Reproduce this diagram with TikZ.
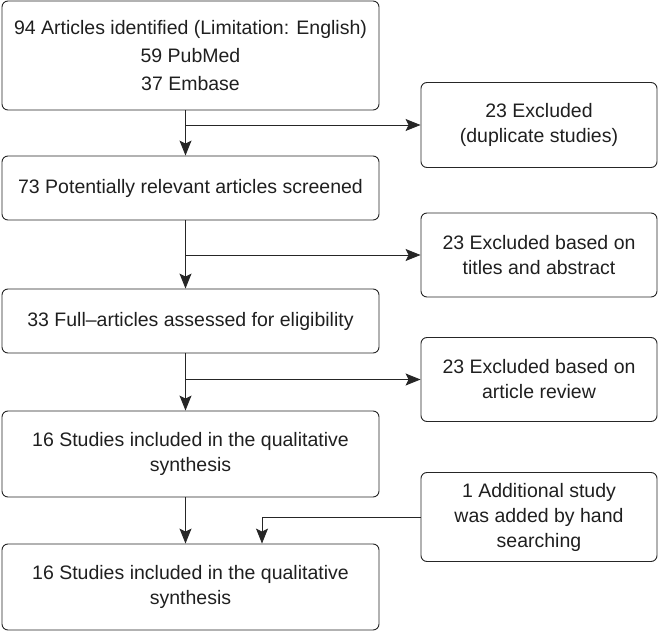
\documentclass[tikz,border=0pt]{standalone}
\usepackage{fontspec}
\setmainfont{Liberation Sans}
\usetikzlibrary{arrows.meta}
\begin{document}
\begin{tikzpicture}[x=1pt,y=-1pt,
        box/.style={draw=black!85, rounded corners=6pt, line width=0.9pt, align=center,
            inner sep=0pt, text=black!88, font=\fontsize{19.5}{25}\selectfont},
        leftbox/.style={box, minimum width=377pt},
        rightbox/.style={box, minimum width=236pt},
        arr/.style={draw=black!85, line width=0.9pt, -{Stealth[length=15pt,width=12pt,inset=3pt]}}]
        \useasboundingbox (0,0) rectangle (659,631);

        \node[leftbox, minimum height=109pt, font=\fontsize{19.5}{28}\selectfont] (found) at (190.5,55.5)
            {94 Articles identified (Limitation: English)\\59 PubMed\\37 Embase};
        \node[leftbox, minimum height=64pt] (screen) at (190.5,188) {73 Potentially relevant articles screened};
        \node[leftbox, minimum height=64pt] (full) at (190.5,321) {33 Full--articles assessed for eligibility};
        \node[leftbox, minimum height=86pt] (incl) at (190.5,454) {16 Studies included in the qualitative\\synthesis};
        \node[leftbox, minimum height=86pt] (pooled) at (190.5,587) {16 Studies included in the qualitative\\synthesis};

        \node[rightbox, minimum height=85pt] (dup) at (539,125) {23 Excluded\\(duplicate studies)};
        \node[rightbox, minimum height=84pt] (title) at (539,255) {23 Excluded based on\\titles and abstract};
        \node[rightbox, minimum height=84pt] (review) at (539,379.5) {23 Excluded based on\\article review};
        \node[rightbox, minimum height=89pt] (hand) at (539,517) {1 Additional study\\was added by hand\\searching};

        \coordinate (spine) at (185.5,0);
        \coordinate (handx) at (262,0);

        \draw[arr] (found.south -| spine) -- (screen.north -| spine);
        \draw[arr] (screen.south -| spine) -- (full.north -| spine);
        \draw[arr] (full.south -| spine) -- (incl.north -| spine);
        \draw[arr] (incl.south -| spine) -- (pooled.north -| spine);

        \draw[arr] (spine |- dup.west) -- (dup.west);
        \draw[arr] (spine |- title.west) -- (title.west);
        \draw[arr] (spine |- review.west) -- (review.west);
        \draw[arr] (hand.west) -| (handx |- pooled.north);
    \end{tikzpicture}
\end{document}
